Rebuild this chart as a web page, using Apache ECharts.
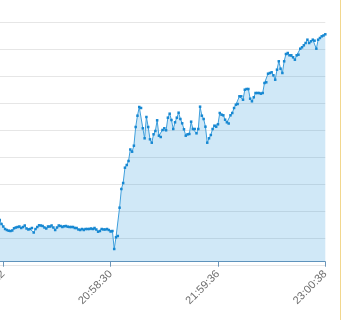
<!DOCTYPE html>
<html>
<head>
<meta charset="utf-8">
<script src="https://cdn.jsdelivr.net/npm/echarts@6/dist/echarts.min.js"></script>
<style>
  html, body { margin: 0; padding: 0; width: 343px; height: 320px; overflow: hidden; background: #fff; position: relative; }
  #chart { position: absolute; left: -100px; top: 0; width: 443px; height: 320px; }
  #edge { position: absolute; left: 340px; top: 0; width: 1px; height: 320px; background: #f2d78e; }
</style>
</head>
<body>
<div id="chart"></div>
<div id="edge"></div>
<script>
// Category positions that carry a visible tick label, and their texts
const tickIndex = [3, 63, 123, 183];
const tickLabels = ['19:57:22', '20:58:30', '21:59:36', '23:00:38'];

// Series values
const values = [
  47.7, 41.7, 37.7, 35.2, 32.7, 31.7, 31, 30.7, 31.2, 33.4,
  34.2, 34.7, 35.2, 33.7, 34.7, 36.2, 33.2, 32.2, 32.7, 33.7,
  29.2, 32.7, 34.7, 36.4, 36.2, 35.7, 34.2, 33.2, 35.2, 35.2,
  36.2, 34.2, 31.7, 34.2, 36.2, 35.7, 34.7, 35.4, 35.7, 35,
  34.7, 34.7, 34.7, 33.7, 33.7, 32.2, 31.7, 32.7, 31.7, 32.7,
  32.7, 32.7, 33.2, 32.7, 33.7, 32.2, 30, 30.7, 32.7, 32.2,
  32.2, 32.7, 31.7, 30.2, 30.7, 12.7, 24.4, 25.7, 54, 72.7,
  78.7, 94, 96.7, 100.7, 112.2, 110, 116, 134.7, 146, 154.7,
  153.7, 133.4, 123.4, 144.7, 134.7, 122.4, 119, 127.4, 130.7, 141.4,
  126, 124.7, 131.7, 133.4, 131.4, 144, 148, 141.7, 132.7, 139.4,
  144, 149, 142.7, 138.4, 132.4, 126, 127.4, 127.7, 140, 132.7,
  132.7, 128.4, 132.7, 155, 146, 142.7, 135, 119, 123.4, 126.7,
  132.7, 136, 135, 137.4, 148.7, 147, 146.4, 142, 139.4, 138.2,
  146.4, 148.7, 153.7, 157, 157.7, 165.4, 165.4, 162, 172, 172.7,
  172.7, 163, 160.4, 164.4, 168.7, 168.7, 168.7, 168, 168.7, 178.7,
  179.4, 188, 188.7, 189.4, 186.4, 182, 192, 200.4, 193, 188.7,
  200.4, 207.7, 208.7, 206.4, 206.4, 204.4, 202, 206.4, 207, 213,
  214.4, 216.4, 218.7, 222, 218.7, 220.4, 222, 221, 213, 222,
  223.7, 225.4, 226.2, 227.4
];

// Categories: one per sample
const categories = values.map((_, i) => String(i));

const isTick = (idx) => tickIndex.indexOf(idx) >= 0;

const chart = echarts.init(document.getElementById('chart'), null, { renderer: 'canvas' });
chart.setOption({
  animation: false,
  grid: { left: 97.93, right: 17.7, top: 22.3, bottom: 54.7, containLabel: false },
  xAxis: {
    type: 'category',
    data: categories,
    boundaryGap: false,
    axisLine: { lineStyle: { color: '#6d95b7', width: 1 } },
    axisTick: { interval: (idx) => isTick(idx), length: 5, lineStyle: { color: '#6d95b7' } },
    axisLabel: {
      interval: (idx) => isTick(idx),
      rotate: 45,
      margin: 7,
      color: '#6e6e6e',
      fontSize: 11,
      formatter: (val, idx) => {
        const k = tickIndex.indexOf(idx);
        return k >= 0 ? tickLabels[k] : '';
      }
    },
    splitLine: { show: false }
  },
  yAxis: {
    type: 'value',
    min: -3.6,
    max: 239.4,
    interval: 27,
    axisLine: { show: false },
    axisTick: { show: false },
    axisLabel: { show: false },
    splitLine: { lineStyle: { color: '#e6e6e6', width: 1 } }
  },
  series: [{
    type: 'line',
    data: values,
    showAllSymbol: true,
    symbol: 'rect',
    symbolSize: 2.5,
    itemStyle: { color: '#1788d2' },
    lineStyle: { color: '#3f9fdc', width: 1 },
    areaStyle: { color: 'rgba(26,143,214,0.29)' }
  }]
});
</script>
</body>
</html>
